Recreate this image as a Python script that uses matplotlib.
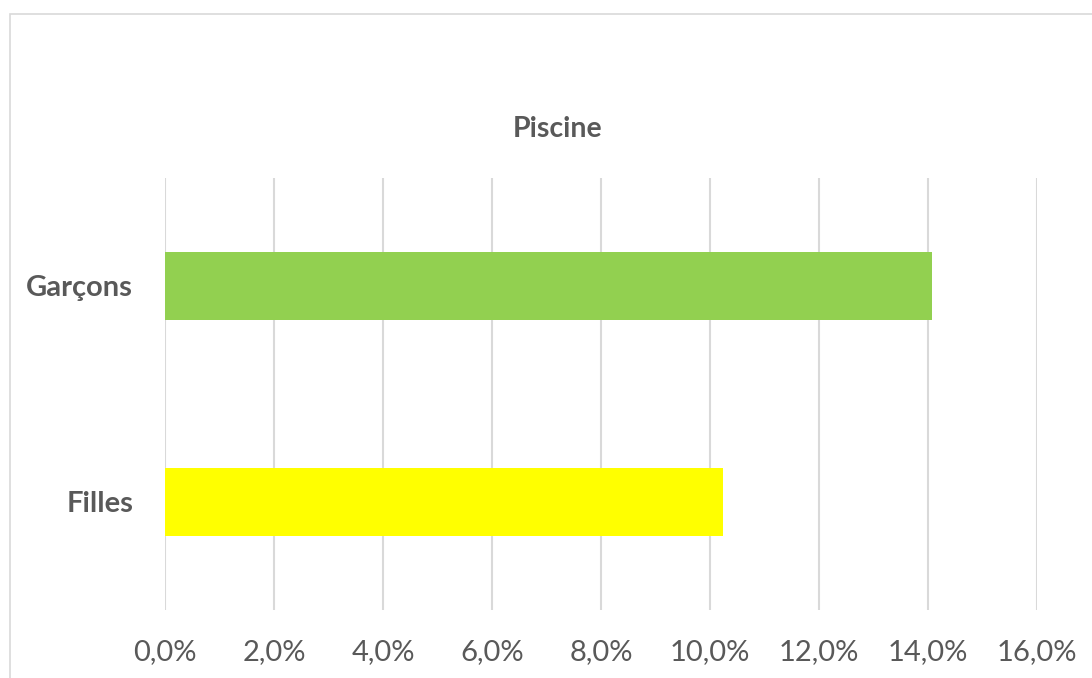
import matplotlib.pyplot as plt
from matplotlib.patches import Rectangle
from matplotlib.ticker import FuncFormatter

# data
categories = ["Filles", "Garçons"]
values = [10.24, 14.07]  # percent
bar_colors = ["#FFFF00", "#92D050"]
x_ticks = [0, 2, 4, 6, 8, 10, 12, 14, 16]

plt.rcParams['font.family'] = ['Lato', 'DejaVu Sans']
text_color = "#595959"
grid_color = "#D9D9D9"

fig = plt.figure(figsize=(10.92, 6.78), dpi=100)
ax = fig.add_axes([0.1511, 0.1003, 0.7985, 0.6372])

ax.barh(range(len(categories)), values, height=0.315, color=bar_colors, zorder=3)

ax.set_xlim(0, 16)
ax.set_ylim(-0.5, len(categories) - 0.5)
ax.set_xticks(x_ticks)
ax.xaxis.set_major_formatter(FuncFormatter(lambda v, p: f"{v:.1f}%".replace(".", ",")))
ax.set_yticks(range(len(categories)))
ax.set_yticklabels(categories, fontweight="bold")

ax.grid(axis="x", color=grid_color, linewidth=1.5, zorder=0)
for s in ax.spines.values():
    s.set_visible(False)
ax.tick_params(axis="x", length=0, pad=21, labelsize=21, labelcolor=text_color)
ax.tick_params(axis="y", length=0, pad=23, labelsize=21, labelcolor=text_color)

fig.text(0.511, 0.81, "Piscine", ha="center", va="center",
         fontsize=20.5, fontweight="bold", color=text_color)

# chart area border (only left and top visible in the crop)
fig.patches.append(Rectangle((0.0092, -0.1), 1.2, 1.0794, transform=fig.transFigure,
                             fill=False, edgecolor=grid_color, linewidth=1.2))

fig.savefig("out.png", dpi=100)
